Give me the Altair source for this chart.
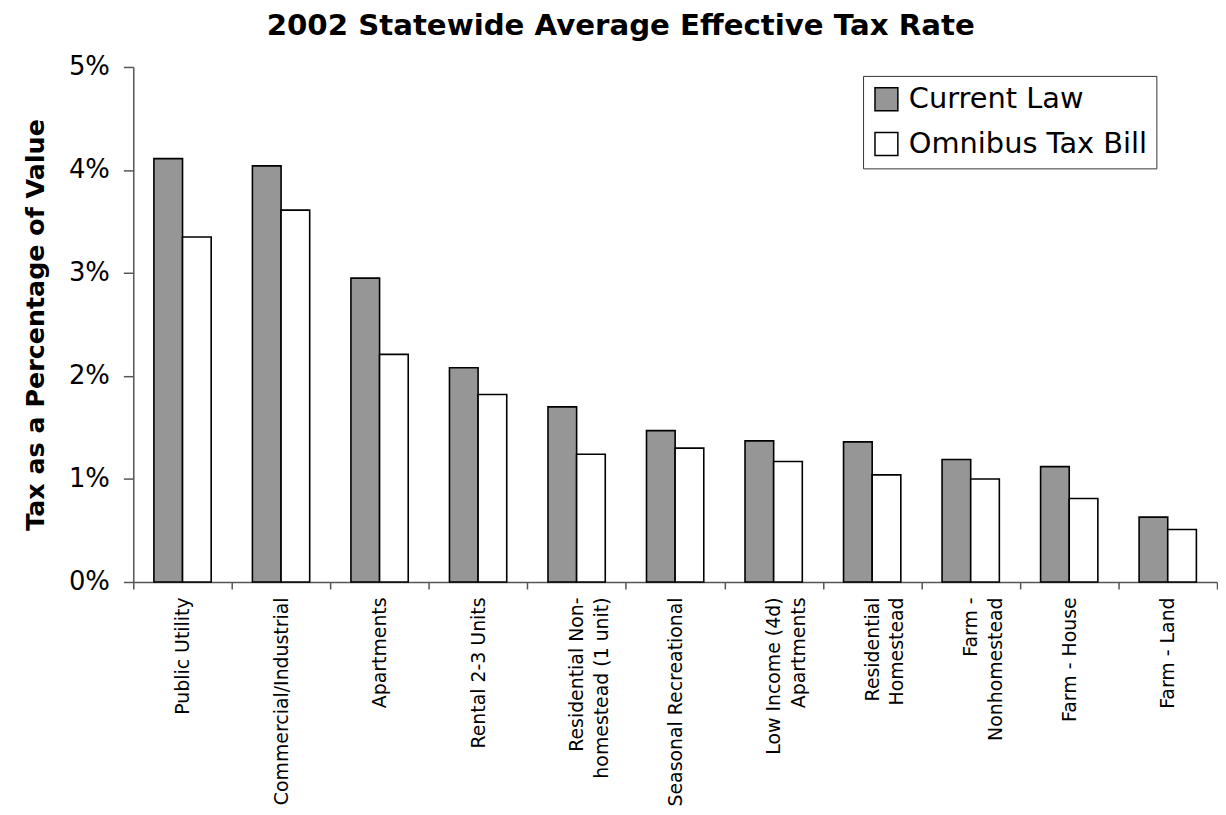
import altair as alt
import pandas as pd

categories = [
    "Public Utility",
    "Commercial/Industrial",
    "Apartments",
    "Rental 2-3 Units",
    "Residential Non-\nhomestead (1 unit)",
    "Seasonal Recreational",
    "Low Income (4d)\nApartments",
    "Residential\nHomestead",
    "Farm -\nNonhomestead",
    "Farm - House",
    "Farm - Land",
]
current_law = [4.11, 4.04, 2.95, 2.08, 1.70, 1.47, 1.37, 1.36, 1.19, 1.12, 0.63]
omnibus = [3.35, 3.61, 2.21, 1.82, 1.24, 1.30, 1.17, 1.04, 1.00, 0.81, 0.51]
series = ["Current Law", "Omnibus Tax Bill"]
y_ticks = [0, 0.01, 0.02, 0.03, 0.04, 0.05]

rows = []
for c, a, b in zip(categories, current_law, omnibus):
    rows.append({"category": c, "series": series[0], "rate": a / 100})
    rows.append({"category": c, "series": series[1], "rate": b / 100})
df = pd.DataFrame(rows)

FONT = "DejaVu Sans"

chart = (
    alt.Chart(df)
    .mark_bar(stroke="black", strokeWidth=1.6)
    .encode(
        x=alt.X(
            "category:N",
            sort=categories,
            scale=alt.Scale(paddingInner=0, paddingOuter=0),
            axis=alt.Axis(
                title=None,
                labelAngle=270,
                labelAlign="right",
                labelBaseline="middle",
                labelExpr="split(datum.label, '\\n')",
                labelFontSize=19,
                labelColor="black",
                labelFont=FONT,
                labelPadding=8,
                labelLineHeight=25,
                labelLimit=400,
                tickBand="extent",
                tickSize=7,
                tickColor="#555555",
                domainColor="#555555",
                domainWidth=1.5,
                tickWidth=1.5,
            ),
        ),
        xOffset=alt.XOffset(
            "series:N",
            sort=series,
            scale=alt.Scale(paddingInner=0, paddingOuter=0.72),
        ),
        y=alt.Y(
            "rate:Q",
            scale=alt.Scale(domain=[0, 0.05], nice=False),
            axis=alt.Axis(
                title="Tax as a Percentage of Value",
                titleFontSize=25.5,
                titleFont=FONT,
                titleFontWeight="bold",
                titleColor="black",
                titlePadding=20,
                values=y_ticks,
                format=".0%",
                labelFontSize=26,
                labelFont=FONT,
                labelColor="black",
                labelPadding=14,
                tickSize=10,
                tickColor="#555555",
                domainColor="#555555",
                domainWidth=1.5,
                tickWidth=1.5,
                grid=False,
            ),
        ),
        color=alt.Color(
            "series:N",
            sort=series,
            scale=alt.Scale(domain=series, range=["#969696", "#ffffff"]),
            legend=alt.Legend(
                title=None,
                orient="none",
                legendX=734,
                legendY=9,
                symbolType="square",
                symbolSize=529,
                symbolStrokeColor="black",
                symbolStrokeWidth=1.5,
                labelFontSize=29,
                labelFont=FONT,
                labelColor="black",
                labelLimit=400,
                labelOffset=8,
                rowPadding=15,
                padding=9,
                strokeColor="#333333",
                fillColor="white",
            ),
        ),
    )
    .properties(
        width=1090,
        height=518,
        title=alt.TitleParams(
            "2002 Statewide Average Effective Tax Rate",
            fontSize=29.4,
            font=FONT,
            fontWeight="bold",
            color="black",
            anchor="middle",
            frame="bounds",
            offset=13,
        ),
        padding={"left": 15, "top": 0, "right": 0, "bottom": 0},
    )
    .configure_view(stroke=None)
)

chart.save("out.html", embed_options={"renderer": "svg", "actions": False})
